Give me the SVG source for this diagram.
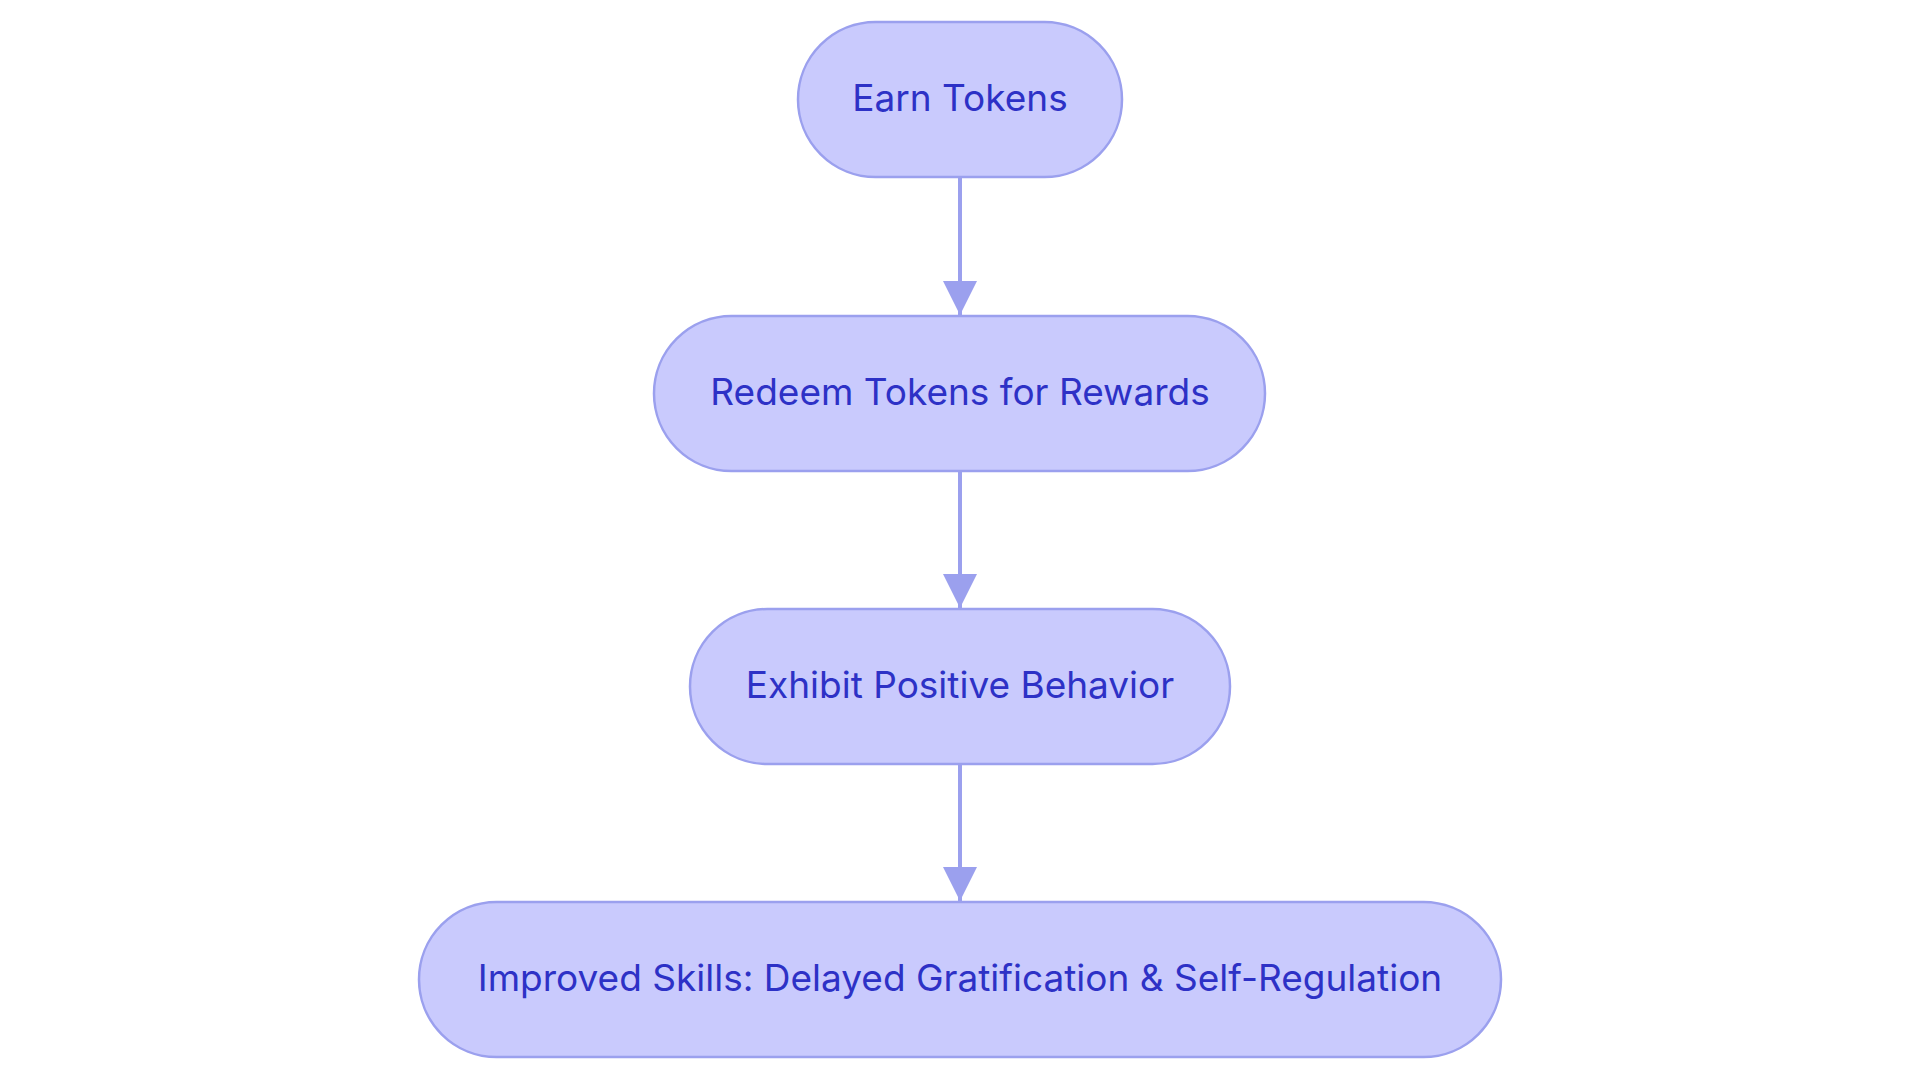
<svg xmlns="http://www.w3.org/2000/svg" width="1920" height="1083" viewBox="0 0 1920 1083">
<style>
.node rect{fill:#C9CAFD;stroke:#9BA0EE;stroke-width:2.5}
.node text{fill:#2D31C6;font-family:Inter,"Noto Sans",sans-serif;font-size:37px;text-anchor:middle}
.edge{stroke:#9BA0EE;stroke-width:4;fill:none}
</style>
<defs>
<marker id="ah" viewBox="0 0 10 10" refX="10" refY="5" markerUnits="userSpaceOnUse" markerWidth="34" markerHeight="34" orient="auto">
<path d="M0,0 L10,5 L0,10 z" fill="#9BA0EE"/>
</marker>
</defs>
<rect width="1920" height="1083" fill="#ffffff"/>
<g id="connectors">
<path class="edge" d="M960,178 L960,315" marker-end="url(#ah)"/>
<path class="edge" d="M960,471 L960,608" marker-end="url(#ah)"/>
<path class="edge" d="M960,765 L960,901" marker-end="url(#ah)"/>
</g>
<g id="node-earn" class="node">
<rect x="798" y="22" width="324" height="155" rx="77.5"/>
<text x="960" y="111">Earn Tokens</text>
</g>
<g id="node-redeem" class="node">
<rect x="654" y="316" width="611" height="155" rx="77.5"/>
<text x="960" y="405">Redeem Tokens for Rewards</text>
</g>
<g id="node-exhibit" class="node">
<rect x="690" y="609" width="540" height="155" rx="77.5"/>
<text x="960" y="698">Exhibit Positive Behavior</text>
</g>
<g id="node-improved" class="node">
<rect x="419" y="902" width="1082" height="155" rx="77.5"/>
<text x="960" y="991">Improved Skills: Delayed Gratification &amp; Self-Regulation</text>
</g>
</svg>
